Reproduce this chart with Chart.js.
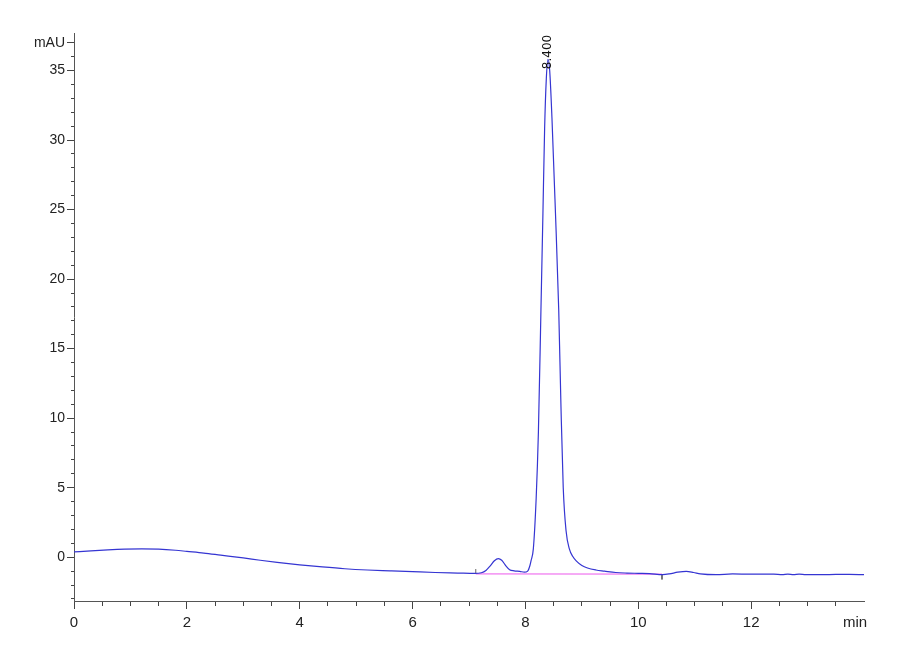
<!DOCTYPE html>
<html>
<head>
<meta charset="utf-8">
<title>Chromatogram</title>
<script src="https://cdn.jsdelivr.net/npm/chart.js@4.4.1/dist/chart.umd.min.js"></script>
<style>
	html, body { margin: 0; padding: 0; background: #fff; }
	#wrap { width: 900px; height: 660px; }
</style>
</head>
<body>
<div id="wrap"><canvas id="chromatogram"></canvas></div>
<script>
// signal trace (min, mAU)
const timeMin = [
	0.00, 0.30, 0.60, 0.90, 1.20, 1.50, 1.80, 2.00, 2.30, 2.60,
	3.00, 3.30, 3.60, 4.00, 4.40, 4.80, 5.20, 5.60, 6.00, 6.40,
	6.80, 7.10, 7.22, 7.30, 7.38, 7.45, 7.52, 7.58, 7.65, 7.72,
	7.80, 7.90, 7.98, 8.04, 8.08, 8.10, 8.14, 8.19, 8.23, 8.275,
	8.31, 8.34, 8.37, 8.40, 8.43, 8.47, 8.53, 8.59, 8.63, 8.67,
	8.72, 8.78, 8.84, 8.90, 9.00, 9.10, 9.25, 9.40, 9.60, 9.80,
	10.00, 10.20, 10.43, 10.55, 10.70, 10.85, 10.98, 11.10, 11.38, 11.67,
	12.00, 12.40, 12.55, 12.65, 12.75, 12.85, 12.97, 13.20, 13.50, 13.74,
	14.00
];
const signalMAU = [
	0.38, 0.46, 0.53, 0.58, 0.60, 0.58, 0.50, 0.42, 0.30, 0.15,
	-0.05, -0.22, -0.37, -0.55, -0.70, -0.83, -0.92, -0.98, -1.04, -1.10,
	-1.14, -1.17, -1.12, -0.95, -0.60, -0.25, -0.10, -0.22, -0.60, -0.90,
	-0.98, -1.02, -1.08, -1.00, -0.60, -0.25, 0.60, 4.2, 9.0, 17.8,
	24.7, 30.8, 34.4, 35.8, 35.0, 31.6, 25.0, 17.8, 10.8, 5.0,
	1.9, 0.58, 0.05, -0.27, -0.60, -0.78, -0.92, -1.00, -1.10, -1.14,
	-1.16, -1.18, -1.25, -1.20, -1.08, -1.02, -1.10, -1.20, -1.26, -1.20,
	-1.22, -1.22, -1.26, -1.21, -1.26, -1.22, -1.26, -1.26, -1.24, -1.23,
	-1.26
];

// integration baseline and its start / end marks
const baselineTime = [7.12, 10.42];
const baselineMAU = [-1.20, -1.22];
const startMarkMAU = [-1.20, -0.85];
const endMarkMAU = [-1.22, -1.60];

// peak annotation
const peakTime = 8.400;
const peakLabelAt = 35.1;
const peakLabel = "8.400";

// axis ticks
const xMin = 0, xMax = 14;
const yMin = -3.15, yMax = 37.7;
const xMajor = [0, 2, 4, 6, 8, 10, 12];
const xUnitAt = 13.84, xUnit = "min";
const yMajor = [0, 5, 10, 15, 20, 25, 30, 35];
const yUnitAt = 37, yUnit = "mAU";

const xTickValues = [];
for (let v = 0; v <= 13.5; v += 0.5) xTickValues.push(v);
xTickValues.push(xUnitAt);
const yTickValues = [];
for (let v = -3; v <= 37; v++) yTickValues.push(v);

const trace = timeMin.map((t, i) => ({ x: t, y: signalMAU[i] }));
const baseline = baselineTime.map((t, i) => ({ x: t, y: baselineMAU[i] }));
const startMark = startMarkMAU.map((v) => ({ x: baselineTime[0], y: v }));
const endMark = endMarkMAU.map((v) => ({ x: baselineTime[1], y: v }));

const tickFamily = "'Liberation Sans Narrow', 'Liberation Sans', Arial, sans-serif";

const peakLabelPlugin = {
	id: "peakLabel",
	afterDatasetsDraw(chart) {
		const { ctx, scales: { x, y } } = chart;
		ctx.save();
		ctx.translate(x.getPixelForValue(peakTime), y.getPixelForValue(peakLabelAt));
		ctx.rotate(-Math.PI / 2);
		ctx.font = "12px 'DejaVu Sans', sans-serif";
		ctx.fillStyle = "#111";
		ctx.textAlign = "left";
		ctx.textBaseline = "middle";
		ctx.fillText(peakLabel, 0, 0);
		ctx.restore();
	},
};

new Chart("chromatogram", {
	type: "line",
	data: {
		datasets: [
			{ data: trace, borderColor: "#3535d2", borderWidth: 1.2, cubicInterpolationMode: "monotone" },
			{ data: baseline, borderColor: "#f07af0", borderWidth: 1.2 },
			{ data: startMark, borderColor: "#666", borderWidth: 1 },
			{ data: endMark, borderColor: "#666", borderWidth: 1 },
		],
	},
	options: {
		responsive: true,
		maintainAspectRatio: false,
		animation: false,
		layout: { padding: { top: 33, right: 36, bottom: 0, left: 0 } },
		elements: { point: { radius: 0 }, line: { fill: false } },
		plugins: { legend: { display: false }, tooltip: { enabled: false } },
		scales: {
			x: {
				type: "linear",
				min: xMin,
				max: xMax,
				afterBuildTicks: (scale) => { scale.ticks = xTickValues.map((v) => ({ value: v })); },
				afterFit: (scale) => { scale.height = 59; },
				border: { display: true, color: "#555", width: 1 },
				grid: {
					drawOnChartArea: false,
					tickLength: 8,
					tickWidth: 1,
					tickColor: (c) => (c.tick && c.tick.value === xUnitAt ? "rgba(0,0,0,0)" : "#444"),
					tickBorderDash: (c) => (c.tick && xMajor.includes(c.tick.value) ? [] : [4, 20]),
				},
				ticks: {
					autoSkip: false,
					maxRotation: 0,
					padding: 5,
					color: "#222",
					font: { family: tickFamily, size: 15 },
					callback: (v) => (v === xUnitAt ? xUnit : xMajor.includes(v) ? String(v) : ""),
				},
			},
			y: {
				type: "linear",
				min: yMin,
				max: yMax,
				afterBuildTicks: (scale) => { scale.ticks = yTickValues.map((v) => ({ value: v })); },
				afterFit: (scale) => { scale.width = 74; },
				border: { display: true, color: "#555", width: 1 },
				grid: {
					drawOnChartArea: false,
					tickLength: 7,
					tickWidth: 1,
					tickColor: "#444",
					tickBorderDash: (c) => (c.tick && (yMajor.includes(c.tick.value) || c.tick.value === yUnitAt) ? [] : [0, 4, 3, 20]),
				},
				ticks: {
					autoSkip: false,
					padding: 2,
					color: "#222",
					font: { family: tickFamily, size: 14 },
					callback: (v) => (v === yUnitAt ? yUnit : yMajor.includes(v) ? String(v) : ""),
				},
			},
		},
	},
	plugins: [peakLabelPlugin],
});
</script>
</body>
</html>
